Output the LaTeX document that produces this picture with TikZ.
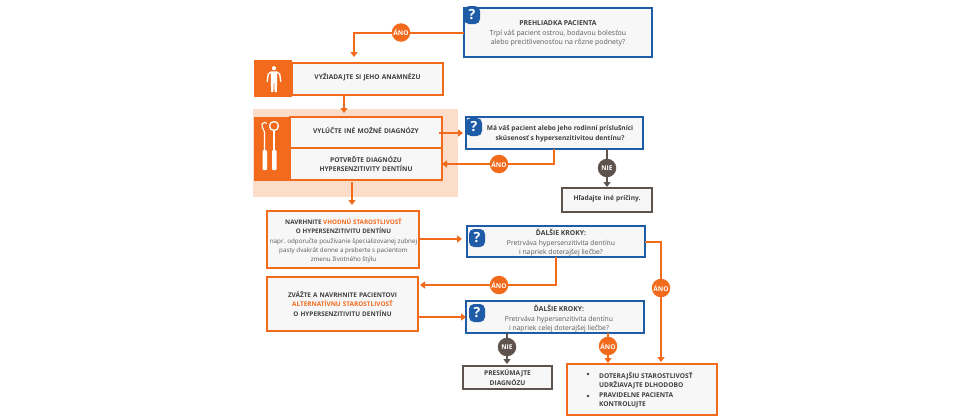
\documentclass[tikz,border=0pt]{standalone}
\usepackage{fontspec}
\setmainfont{Open Sans}
\usetikzlibrary{arrows.meta,calc,positioning}
\definecolor{org}{HTML}{F26A1C}
\definecolor{blu}{HTML}{1F5CA8}
\definecolor{gry}{HTML}{5E534D}
\definecolor{pale}{HTML}{FCDDC9}
\definecolor{boxf}{HTML}{F7F7F7}
\definecolor{txd}{HTML}{3F3F3F}
\definecolor{txl}{HTML}{5A5A5A}
\tikzset{
  x=1pt,y=-1pt,
  pbox/.style={draw,line width=2pt,outer sep=0pt,fill=boxf,inner sep=0pt,align=center,text=txd,font=\fontsize{6.6}{9.6}\selectfont\bfseries},
  obox/.style={pbox,draw=org},
  bbox/.style={pbox,draw=blu},
  gbox/.style={pbox,draw=gry},
  tx/.style={inner sep=0pt,align=center,text=txl,font=\fontsize{6.8}{9.4}\selectfont},
  ans/.style={circle,minimum size=18.5pt,inner sep=0pt,outer sep=0pt,fill=org,text=white,font=\fontsize{6.6}{8}\selectfont\bfseries},
  nie/.style={ans,fill=gry},
  badge/.style={rounded corners=5pt,fill=blu,text=white,minimum width=16pt,minimum height=18pt,inner sep=0pt,font=\fontsize{14}{14}\selectfont\bfseries},
  iconbg/.style={fill=org,inner sep=0pt,outer sep=0pt},
  oline/.style={draw=org,line width=2pt},
  oarr/.style={oline,-{Triangle[length=5pt,width=7pt]}},
  garr/.style={draw=gry,line width=2pt,-{Triangle[length=5pt,width=7pt]}},
  gline/.style={draw=gry,line width=2pt},
}
\newcommand{\bx}[7]{\node[#1,minimum width=#4pt-#2pt,minimum height=#5pt-#3pt,text width=#4pt-#2pt-2pt,anchor=north west] (#6) at (#2,#3) {#7};}
\newcommand{\hl}[1]{\textcolor{org}{#1}}
\newcommand{\ttl}[1]{{\bfseries\color{txd}#1}}
\begin{document}
\begin{tikzpicture}
\useasboundingbox (0,0) rectangle (970,416);
\fill[white] (0,0) rectangle (970,416);
\node[fill=pale,inner sep=0pt,outer sep=0pt,minimum width=205pt,minimum height=88pt,anchor=north west] (hlbg) at (253,109) {};

% icon squares
\node[iconbg,minimum width=38pt,minimum height=37pt,anchor=north west] (ic1) at (254,60) {};
\node[iconbg,minimum width=36pt,minimum height=64pt,anchor=north west] (ic2) at (254,116.5) {};

% boxes
\bx{obox}{292}{63}{443}{95}{b2}{\vspace*{4pt}VYŽIADAJTE SI JEHO ANAMNÉZU}
\bx{obox}{290}{117}{442}{148}{b3}{\vspace*{4pt}VYLÚČTE INÉ MOŽNÉ DIAGNÓZY}
\bx{obox}{290}{148}{442}{180}{b4}{POTVRĎTE DIAGNÓZU\\HYPERSENZITIVITY DENTÍNU}
\bx{obox}{267}{211}{419}{268}{b5}{}
\bx{obox,font=\fontsize{6.4}{9.5}\selectfont\bfseries}{267}{277}{418}{331}{b6}{ZVÁŽTE A NAVRHNITE PACIENTOVI\\\hl{ALTERNATÍVNU STAROSTLIVOSŤ}\\O HYPERSENZITIVITU DENTÍNU}
\bx{bbox}{464}{8}{652}{57}{b1}{}
\bx{bbox}{466}{117}{643}{149}{q2}{}
\bx{bbox}{467}{226}{645}{257}{q3}{}
\bx{bbox}{466}{301}{644}{333}{q4}{}
\bx{gbox}{562}{188}{652}{212}{g1}{\vspace*{2pt}Hľadajte iné príčiny.}
\bx{gbox}{463}{366}{552}{389}{g2}{\vspace*{1pt}PRESKÚMAJTE\\DIAGNÓZU}
\bx{obox}{567}{364}{717}{415}{b7}{}

% texts
\node[tx,font=\fontsize{7}{9.8}\selectfont] (t1) at (558,33.5) {\ttl{\fontsize{6.8}{9.8}\selectfont PREHLIADKA PACIENTA}\\Trpí váš pacient ostrou, bodavou bolesťou\\alebo precitlivenosťou na rôzne podnety?};
\node[tx,text=txd,font=\fontsize{6.6}{9.6}\selectfont\bfseries] (t2) at (560,133.5) {Má váš pacient alebo jeho rodinní príslušníci\\skúsenosť s hypersenzitivitou dentínu?};
\node[tx] (t3) at (561,243) {\ttl{ĎALŠIE KROKY:}\\Pretrváva hypersenzitivita dentínu\\i napriek doterajšej liečbe?};
\node[tx] (t4) at (559,319) {\ttl{ĎALŠIE KROKY:}\\Pretrváva hypersenzitivita dentínu\\i napriek celej doterajšej liečbe?};
\node[tx,font=\fontsize{6.25}{9.2}\selectfont] (t5) at (343.5,241) {\ttl{NAVRHNITE \hl{VHODNÚ STAROSTLIVOSŤ}}\\\ttl{O HYPERSENZITIVITU DENTÍNU}\\napr. odporučte používanie špecializovanej zubnej\\pasty dvakrát denne a preberte s pacientom\\zmenu životného štýlu};
\node[tx,text=txd,font=\fontsize{6.6}{9}\selectfont\bfseries,align=left,anchor=north west] (t7a) at (599,372) {DOTERAJŠIU STAROSTLIVOSŤ\\UDRŽIAVAJTE DLHODOBO};
\node[tx,text=txd,font=\fontsize{6.6}{9}\selectfont\bfseries,align=left,anchor=north west] (t7b) at (599,393) {PRAVIDELNE PACIENTA\\KONTROLUJTE};
\node[circle,fill=txd,inner sep=0pt,minimum size=2.6pt] (d1) at (588,374) {};
\node[circle,fill=txd,inner sep=0pt,minimum size=2.6pt] (d2) at (588,396) {};

% badges
\node[badge] (qm1) at (472,15) {?};
\node[badge] (qm2) at (474,127) {?};
\node[badge] (qm3) at (477,238) {?};
\node[badge] (qm4) at (477,313) {?};

% answer circles
\node[ans] (a1) at (401,32.5) {ÁNO};
\node[ans] (a2) at (499,164) {ÁNO};
\node[nie] (n1) at (607,168) {NIE};
\node[ans] (a3) at (499,285) {ÁNO};
\node[ans] (a4) at (661,288) {ÁNO};
\node[nie] (n2) at (507,347) {NIE};
\node[ans] (a5) at (608,346) {ÁNO};

% free connector ends
\coordinate (p1) at (354,57);
\coordinate (p2s) at (344,95);
\coordinate (p2e) at (344,113);
\coordinate (p3s) at (439,133);
\coordinate (p3e) at (463,133);
\coordinate (p4s) at (352,182);
\coordinate (p4e) at (352,205);
\coordinate (p5e) at (462,239);
\coordinate (p5s) at (419,239);
\coordinate (p6s) at (556,257);
\coordinate (p7e) at (420,285);
\coordinate (q2a) at (554,149);
\coordinate (p8) at (661,362);
\coordinate (n1s) at (607,149);
\coordinate (n1e) at (607,187);
\coordinate (p9s) at (418,317);
\coordinate (n2e) at (507,364);
\coordinate (a5e) at (608,363);

% connectors
\draw[oline] (b1.west) -- (a1);
\draw[oarr] (a1) -| (p1);
\draw[oarr] (p2s) -- (p2e);
\draw[oarr] (p3s) -- (p3e);
\draw[oline] (q2a) |- (a2);
\draw[oarr] (a2) -- (b4.east);
\draw[gline] (n1s) -- (n1);
\draw[garr] (n1) -- (n1e);
\draw[oarr] (p4s) -- (p4e);
\draw[oarr] (p5s) -- (p5e);
\draw[oline] (p6s) |- (a3);
\draw[oarr] (a3) -- (p7e);
\draw[oarr] (p9s) -- (q4.west);
\draw[oline] (q3.east) -| (a4);
\draw[oarr] (a4) -- (p8);
\draw[gline] (q4.south -| n2) -- (n2);
\draw[garr] (n2) -- (n2e);
\draw[oline] (q4.south -| a5) -- (a5);
\draw[oarr] (a5) -- (a5e);

% person icon
\fill[white] (274,68.2) circle (2.1);
\fill[white] (270.8,71.4) -- (277.2,71.4) -- (277.2,80) -- (276.8,92) -- (274.6,92) -- (274.2,82) -- (273.8,82) -- (273.4,92) -- (271.2,92) -- (270.8,80) -- cycle;
\draw[white,line width=1.4pt,line cap=round,line join=round] (271,72.2) -- (268.3,74) -- (267.2,81.5);
\draw[white,line width=1.4pt,line cap=round,line join=round] (277,72.2) -- (279.7,74) -- (280.8,81.5);

% dental tools
\draw[white,line width=1.1pt] (264.5,150) -- (264.5,132) .. controls (263,128) and (261,126) .. (262,124) .. controls (263,122) and (266,122) .. (267,123.5);
\draw[white,line width=1.1pt] (274,150) -- (274,131);
\draw[white,line width=1.3pt] (274,126) circle (4.5);
\fill[white,rounded corners=1pt] (262.5,150) rectangle (267,170);
\fill[white,rounded corners=1pt] (272,150) rectangle (276.5,170);
\end{tikzpicture}
\end{document}
